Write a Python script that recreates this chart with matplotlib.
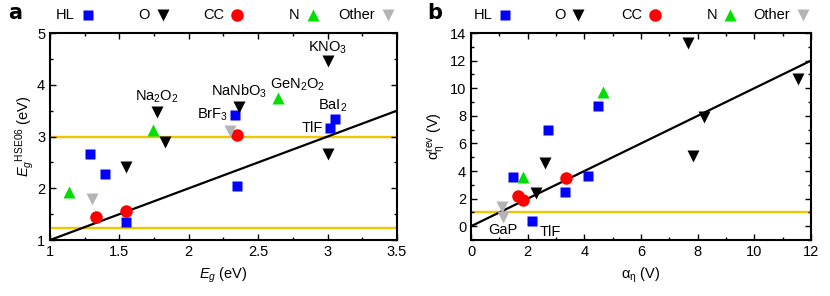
import matplotlib
matplotlib.use('Agg')
import matplotlib.pyplot as plt
import numpy as np

plt.rcParams['font.family'] = ['Liberation Sans', 'DejaVu Sans']
plt.rcParams['mathtext.fontset'] = 'custom'
plt.rcParams['mathtext.rm'] = 'Liberation Sans'
plt.rcParams['mathtext.it'] = 'Liberation Sans:italic'
plt.rcParams['font.size'] = 10.5

# ---- panel a : E_g vs E_g^HSE06 ----
a_hl_x = [1.29, 1.40, 1.55, 2.35, 2.33, 3.02, 3.05]
a_hl_y = [2.67, 2.28, 1.35, 2.05, 3.42, 3.16, 3.33]
a_o_x = [1.77, 1.83, 1.55, 2.36, 3.00, 3.00]
a_o_y = [3.48, 2.90, 2.41, 3.58, 4.45, 2.66]
a_cc_x = [1.33, 1.55, 2.35]
a_cc_y = [1.44, 1.56, 3.02]
a_n_x = [1.74, 1.14, 2.64]
a_n_y = [3.12, 1.93, 3.74]
a_oth_x = [1.30, 2.30]
a_oth_y = [1.79, 3.10]
a_hlines = [3.0, 1.23]

# labels: text, point x, point y, offset (pt), alignment
a_labels = [
    ('Na$_2$O$_2$', 1.77, 3.48, (0, 5), 'center'),
    ('NaNbO$_3$', 2.36, 3.58, (0, 5), 'center'),
    ('GeN$_2$O$_2$', 2.64, 3.74, (14, 4), 'center'),
    ('KNO$_3$', 3.00, 4.45, (0, 4), 'center'),
    ('BrF$_3$', 2.33, 3.42, (-5, 0), 'right'),
    ('BaI$_2$', 3.05, 3.33, (-1, 4), 'center'),
    ('TlF', 3.02, 3.16, (-5, 0), 'right'),
]

# ---- panel b : alpha_eta vs alpha_eta^rev ----
b_hl_x = [2.71, 4.47, 1.49, 3.32, 4.13, 2.14]
b_hl_y = [6.95, 8.73, 3.59, 2.46, 3.64, 0.40]
b_o_x = [7.67, 8.21, 11.54, 7.82, 2.61, 2.29]
b_o_y = [13.3, 7.93, 10.67, 5.09, 4.55, 2.43]
b_cc_x = [1.65, 1.85, 3.35]
b_cc_y = [2.19, 1.90, 3.47]
b_n_x = [4.67, 1.82]
b_n_y = [9.70, 3.54]
b_oth_x = [1.08, 1.12]
b_oth_y = [1.41, 0.64]
b_hlines = [1.0]

b_labels = [
    ('GaP', 1.12, 0.64, (0, -4), 'center'),
    ('TlF', 2.14, 0.40, (6, -3), 'left'),
]

styles = [
    ('HL', 's', '#0000ff', 6.5),
    ('O', 'v', 'black', 8),
    ('CC', 'o', '#ff0000', 9),
    ('N', '^', '#00e000', 8),
    ('Other', 'v', '#b4b4b4', 8),
]
# legend marker positions (axes fraction) for each panel
a_leg_pos = [0.110, 0.326, 0.539, 0.758, 0.974]
b_leg_pos = [0.100, 0.315, 0.541, 0.762, 0.976]

fig = plt.figure(figsize=(8.3, 2.96), dpi=100)
ax1 = fig.add_axes([0.0602, 0.189, 0.4181, 0.6995])
ax2 = fig.add_axes([0.5675, 0.189, 0.4096, 0.6995])


def draw(ax, xs, ys, hlines, lim, labels, legpos):
    for y in hlines:
        ax.axhline(y, color='#f2c500', lw=1.7, zorder=1)
    ax.plot([lim[0], lim[1]], [lim[0], lim[1]], color='black', lw=1.6, zorder=2)
    for (name, m, c, s), x, y in zip(styles, xs, ys):
        ax.plot(x, y, ls='none', marker=m, color=c, ms=s, mec='none', zorder=3)
    for (name, m, c, s), p in zip(styles, legpos):
        ax.plot([p], [1.088], ls='none', marker=m, color=c, ms=s, mec='none',
                transform=ax.transAxes, clip_on=False)
        ax.text(p - 0.038, 1.088, name, transform=ax.transAxes,
                ha='right', va='center')
    for txt, x, y, off, ha in labels:
        ax.annotate(txt, (x, y), xytext=off, textcoords='offset points',
                    ha=ha, va='bottom' if off[1] > 2 else ('top' if off[1] < -2 else 'center'))
    ax.tick_params(which='both', direction='in', top=True, right=True, width=1)
    ax.tick_params(which='major', length=4)
    ax.tick_params(which='minor', length=2.5)
    for sp in ax.spines.values():
        sp.set_linewidth(1.5)


draw(ax1, [a_hl_x, a_o_x, a_cc_x, a_n_x, a_oth_x],
     [a_hl_y, a_o_y, a_cc_y, a_n_y, a_oth_y], a_hlines, (1, 3.5), a_labels,
     a_leg_pos)
ax1.set_xlim(1, 3.5)
ax1.set_ylim(1, 5)
ax1.set_xticks(np.arange(1, 3.51, 0.5))
ax1.set_xticklabels(['1', '1.5', '2', '2.5', '3', '3.5'])
ax1.set_xticks(np.arange(1, 3.51, 0.25), minor=True)
ax1.set_yticks([1, 2, 3, 4, 5])
ax1.set_yticks(np.arange(1, 5.01, 0.5), minor=True)
ax1.set_xlabel('$\\mathit{E_g}$ (eV)', labelpad=5)
ax1.set_ylabel('$\\mathit{E_g}^{\\mathrm{HSE06}}$ (eV)', labelpad=1)

draw(ax2, [b_hl_x, b_o_x, b_cc_x, b_n_x, b_oth_x],
     [b_hl_y, b_o_y, b_cc_y, b_n_y, b_oth_y], b_hlines, (0, 12), b_labels,
     b_leg_pos)
ax2.set_xlim(0, 12)
ax2.set_ylim(-1, 14)
ax2.set_xticks(np.arange(0, 12.1, 2))
ax2.set_xticks(np.arange(0, 12.1, 1), minor=True)
ax2.set_yticks(np.arange(0, 14.1, 2))
ax2.set_yticks(np.arange(-1, 14.1, 1), minor=True)
ax2.set_xlabel('$\\mathrm{\\alpha_\\eta}$ (V)', labelpad=5)
ax2.set_ylabel('$\\mathrm{\\alpha_\\eta^{rev}}$ (V)', labelpad=2)

fig.text(0.010, 0.955, 'a', fontsize=15, fontweight='bold', va='center',
         family='DejaVu Sans')
fig.text(0.515, 0.955, 'b', fontsize=15, fontweight='bold', va='center',
         family='DejaVu Sans')

fig.savefig('out.png', dpi=100)
